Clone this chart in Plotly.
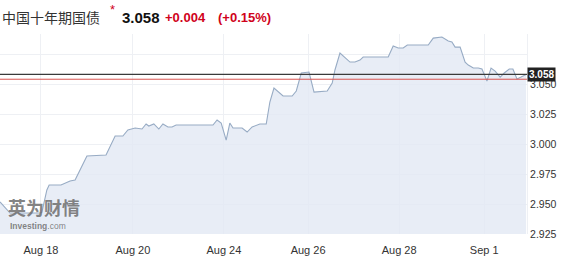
import plotly.graph_objects as go

# ---- data (x in trading-day units from the left edge of the chart) ----
x_vals = [0.00, 0.22, 0.88, 0.92, 1.03, 1.08, 1.34, 1.54, 1.65, 1.91, 2.33, 2.53, 2.70, 2.81,
          2.97, 3.12, 3.21, 3.27, 3.38, 3.49, 3.58, 3.69, 3.78, 3.87, 4.68, 4.77, 4.86, 4.97,
          5.05, 5.12, 5.32, 5.43, 5.54, 5.71, 5.85, 5.93, 6.02, 6.13, 6.22, 6.42, 6.51, 6.62,
          6.79, 6.90, 7.19, 7.30, 7.36, 7.47, 7.58, 7.69, 7.80, 7.91, 7.98, 8.53, 8.64, 8.75,
          8.86, 8.95, 9.41, 9.52, 9.71, 9.85, 9.93, 10.00, 10.11, 10.22, 10.29, 10.40, 10.51,
          10.59, 10.70, 10.79, 10.88, 10.99, 11.08, 11.19, 11.27, 11.36, 11.45, 11.56]
y_vals = [2.9517, 2.9425, 2.9425, 2.9430, 2.9617, 2.9658, 2.9658, 2.9692, 2.9700, 2.9900,
          2.9908, 3.0067, 3.0067, 3.0117, 3.0133, 3.0125, 3.0167, 3.0150, 3.0167, 3.0125,
          3.0167, 3.0142, 3.0142, 3.0158, 3.0158, 3.0200, 3.0175, 3.0033, 3.0175, 3.0133,
          3.0133, 3.0100, 3.0142, 3.0167, 3.0167, 3.0350, 3.0467, 3.0433, 3.0400, 3.0400,
          3.0442, 3.0592, 3.0600, 3.0433, 3.0442, 3.0508, 3.0617, 3.0758, 3.0717, 3.0683,
          3.0683, 3.0700, 3.0725, 3.0725, 3.0817, 3.0800, 3.0800, 3.0825, 3.0825, 3.0883,
          3.0892, 3.0858, 3.0850, 3.0808, 3.0808, 3.0683, 3.0658, 3.0633, 3.0633, 3.0625,
          3.0525, 3.0633, 3.0608, 3.0558, 3.0592, 3.0625, 3.0625, 3.0542, 3.0558, 3.0580]

x_tick_vals = [0.90, 2.92, 4.92, 6.77, 8.77, 10.64]
x_tick_text = ["Aug 18", "Aug 20", "Aug 24", "Aug 26", "Aug 28", "Sep 1"]
y_tick_vals = [2.925, 2.950, 2.975, 3.000, 3.025, 3.050, 3.075]
y_tick_text = ["2.925", "2.950", "2.975", "3.000", "3.025", "3.050", ""]

last_price = 3.058
prev_close = 3.054
title_name = "中国十年期国债"
price_text = "3.058"
change_text = "+0.004"
pct_text = "(+0.15%)"

fig = go.Figure()
fig.add_trace(go.Scatter(
    x=x_vals, y=y_vals, mode="lines",
    line=dict(color="#97abc4", width=1.1),
    fill="tozeroy", fillcolor="rgba(226,233,244,0.8)",
    hoverinfo="skip", showlegend=False,
))

# horizontal reference lines
fig.add_hline(y=last_price, line=dict(color="#3a3a3a", width=1.2))
fig.add_hline(y=prev_close, line=dict(color="#d9534f", width=1))

font_main = "Liberation Sans, Arial, sans-serif"

fig.update_layout(
    width=567, height=264,
    margin=dict(l=0, r=40, t=34, b=30),
    paper_bgcolor="white", plot_bgcolor="white",
    xaxis=dict(
        range=[0, 11.58], tickmode="array", tickvals=x_tick_vals, ticktext=x_tick_text,
        showgrid=True, gridcolor="#eef0f4", gridwidth=1, zeroline=False,
        tickfont=dict(family=font_main, size=11, color="#333"),
        ticks="outside", ticklen=6, tickcolor="rgba(0,0,0,0)",
        showline=False,
    ),
    yaxis=dict(
        range=[2.925, 3.0917], side="right", tickmode="array",
        tickvals=y_tick_vals, ticktext=y_tick_text,
        showgrid=True, gridcolor="#eef0f4", gridwidth=1, zeroline=False,
        tickfont=dict(family=font_main, size=10.5, color="#333"),
        ticks="", showline=True, linecolor="#eef0f4", mirror=False,
    ),
)

# title annotations
fig.add_annotation(xref="paper", yref="paper", x=0.0, y=1.085, xanchor="left", yanchor="middle",
                   text=title_name, showarrow=False,
                   font=dict(family="Noto Sans CJK SC", size=14, color="#333"))
fig.add_annotation(xref="paper", yref="paper", x=112/527, y=1.125, xanchor="center", yanchor="middle",
                   text="*", showarrow=False,
                   font=dict(family=font_main, size=13, color="#d0021b"))
fig.add_annotation(xref="paper", yref="paper", x=120/527, y=1.085, xanchor="left", yanchor="middle",
                   text="<b>" + price_text + "</b>", showarrow=False,
                   font=dict(family=font_main, size=15, color="#111"))
fig.add_annotation(xref="paper", yref="paper", x=163/527, y=1.085, xanchor="left", yanchor="middle",
                   text="<b>" + change_text + "</b>", showarrow=False,
                   font=dict(family=font_main, size=13, color="#d0021b"))
fig.add_annotation(xref="paper", yref="paper", x=216/527, y=1.085, xanchor="left", yanchor="middle",
                   text="<b>" + pct_text + "</b>", showarrow=False,
                   font=dict(family=font_main, size=13, color="#d0021b"))

# last price tag
fig.add_annotation(xref="paper", yref="y", x=1.0, y=last_price, xanchor="left", yanchor="middle",
                   text="<b>" + price_text + "</b>", showarrow=False, bgcolor="#222", borderpad=1,
                   font=dict(family=font_main, size=10, color="white"))

# watermark
fig.add_annotation(xref="paper", yref="paper", x=6/527, y=0.135, xanchor="left", yanchor="middle",
                   text="<b>英为财情</b>", showarrow=False,
                   font=dict(family="Noto Sans CJK SC", size=18, color="rgba(110,110,110,0.85)"))
fig.add_annotation(xref="paper", yref="paper", x=8/527, y=0.04, xanchor="left", yanchor="middle",
                   text="<b>Investing</b>.com", showarrow=False,
                   font=dict(family=font_main, size=8.5, color="rgba(110,110,110,0.85)"))

fig.write_html("out.html", post_script="document.body.style.margin='0';",
               config={"displayModeBar": False})
